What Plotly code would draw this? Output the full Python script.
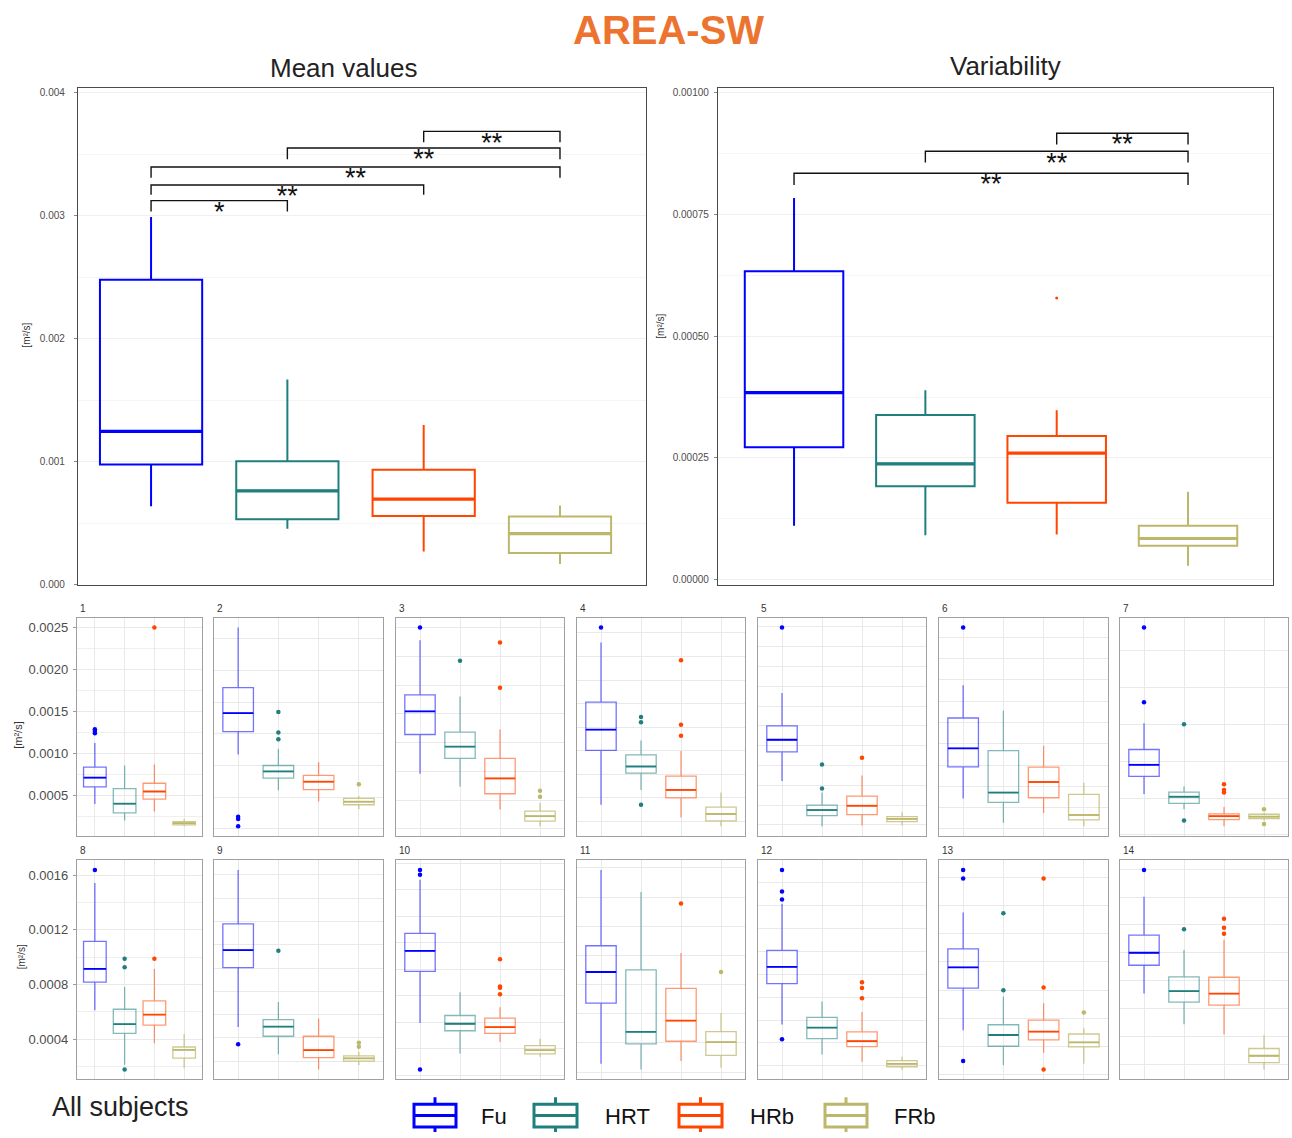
import plotly.graph_objects as go

W, H = 1292, 1138

groups = ["Fu", "HRT", "HRb", "FRb"]

# ---- All subjects: mean values (box statistics per group) ----
mean_lower = [0.000638, 0.000456, 0.000271, 0.000169]
mean_q1 = [0.000979, 0.000534, 0.000560, 0.000260]
mean_median = [0.001247, 0.000764, 0.000697, 0.000416]
mean_q3 = [0.002480, 0.001005, 0.000936, 0.000555]
mean_upper = [0.002990, 0.001670, 0.001300, 0.000646]
mean_outliers = [[], [], [], []]

# ---- All subjects: variability ----
var_lower = [0.000111, 0.0000917, 0.0000931, 0.0000292]
var_q1 = [0.000272, 0.000192, 0.000158, 0.0000700]
var_median = [0.000384, 0.000238, 0.000260, 0.0000849]
var_q3 = [0.000633, 0.000338, 0.000295, 0.000111]
var_upper = [0.000783, 0.000389, 0.000348, 0.000181]
var_outliers = [[], [], [0.000578], []]

# ---- significance brackets ----
mean_pairs = [(0, 1), (0, 2), (0, 3), (1, 3), (2, 3)]
mean_signif = ["*", "**", "**", "**", "**"]
mean_bracket = [0.003123, 0.003250, 0.003396, 0.003550, 0.003686]
mean_tip = [0.003034, 0.003170, 0.003308, 0.003460, 0.003598]

var_pairs = [(0, 3), (1, 3), (2, 3)]
var_signif = ["**", "**", "**"]
var_bracket = [0.000834, 0.000879, 0.000916]
var_tip = [0.000810, 0.000856, 0.000893]

# ---- per-subject distributions, columns: Fu, HRT, HRb, FRb ----
subjects = list(range(1, 15))
subj_lower = [
    [0.000402, 0.000206, 0.000312, 0.000139],
    [0.000836, 0.000555, 0.000466, 0.000406],
    [0.000728, 0.000619, 0.000417, 0.000273],
    [0.000343, 0.000468, 0.000234, 0.000161],
    [0.000643, 0.000187, 0.000193, 0.000193],
    [0.000485, 0.000256, 0.000349, 0.000225],
    [0.000527, 0.000424, 0.000309, 0.000348],
    [0.000613, 0.000214, 0.000371, 0.000189],
    [0.000494, 0.000260, 0.000129, 0.000166],
    [0.000593, 0.000363, 0.000450, 0.000338],
    [0.000257, 0.000218, 0.000275, 0.000230],
    [0.000560, 0.000299, 0.000235, 0.000168],
    [0.000513, 0.000266, 0.000353, 0.000275],
    [0.000707, 0.000486, 0.000412, 0.000162],
]
subj_q1 = [
    [0.000606, 0.000296, 0.000461, 0.000155],
    [0.001018, 0.000651, 0.000560, 0.000440],
    [0.001070, 0.000863, 0.000555, 0.000316],
    [0.000804, 0.000611, 0.000401, 0.000206],
    [0.000937, 0.000293, 0.000303, 0.000233],
    [0.000783, 0.000448, 0.000492, 0.000284],
    [0.000648, 0.000464, 0.000354, 0.000361],
    [0.000819, 0.000444, 0.000504, 0.000262],
    [0.001003, 0.000414, 0.000231, 0.000200],
    [0.000983, 0.000535, 0.000515, 0.000360],
    [0.000673, 0.000393, 0.000411, 0.000314],
    [0.000919, 0.000438, 0.000368, 0.000191],
    [0.000814, 0.000400, 0.000445, 0.000395],
    [0.000910, 0.000645, 0.000624, 0.000210],
]
subj_median = [
    [0.000716, 0.000406, 0.000551, 0.000174],
    [0.001164, 0.000703, 0.000622, 0.000464],
    [0.001272, 0.000964, 0.000688, 0.000360],
    [0.000980, 0.000667, 0.000468, 0.000264],
    [0.001060, 0.000350, 0.000393, 0.000260],
    [0.000957, 0.000541, 0.000640, 0.000330],
    [0.000726, 0.000509, 0.000377, 0.000374],
    [0.000915, 0.000511, 0.000581, 0.000323],
    [0.001154, 0.000497, 0.000294, 0.000223],
    [0.001138, 0.000588, 0.000563, 0.000388],
    [0.000886, 0.000475, 0.000552, 0.000405],
    [0.001064, 0.000533, 0.000415, 0.000217],
    [0.000962, 0.000480, 0.000504, 0.000428],
    [0.001000, 0.000724, 0.000707, 0.000260],
]
subj_q3 = [
    [0.000841, 0.000586, 0.000649, 0.000194],
    [0.001365, 0.000750, 0.000672, 0.000490],
    [0.001415, 0.001090, 0.000863, 0.000403],
    [0.001213, 0.000765, 0.000586, 0.000323],
    [0.001200, 0.000400, 0.000490, 0.000283],
    [0.001242, 0.000935, 0.000780, 0.000523],
    [0.000830, 0.000540, 0.000392, 0.000390],
    [0.001116, 0.000620, 0.000681, 0.000344],
    [0.001380, 0.000557, 0.000414, 0.000246],
    [0.001270, 0.000650, 0.000630, 0.000423],
    [0.001066, 0.000900, 0.000773, 0.000477],
    [0.001209, 0.000623, 0.000496, 0.000244],
    [0.001094, 0.000553, 0.000586, 0.000487],
    [0.001126, 0.000826, 0.000824, 0.000312],
]
subj_upper = [
    [0.001127, 0.000861, 0.000873, 0.000225],
    [0.001839, 0.000883, 0.000776, 0.000510],
    [0.001890, 0.001401, 0.001113, 0.000475],
    [0.001719, 0.000888, 0.000799, 0.000446],
    [0.001533, 0.000527, 0.000700, 0.000327],
    [0.001549, 0.001310, 0.000981, 0.000634],
    [0.001009, 0.000578, 0.000439, 0.000399],
    [0.001544, 0.000782, 0.000915, 0.000439],
    [0.001843, 0.000709, 0.000566, 0.000280],
    [0.001675, 0.000825, 0.000713, 0.000475],
    [0.001586, 0.001434, 0.001016, 0.000605],
    [0.001618, 0.000762, 0.000670, 0.000278],
    [0.001353, 0.000755, 0.000706, 0.000529],
    [0.001402, 0.001019, 0.001093, 0.000407],
]
subj_outliers = [
    [[0.001292, 0.001269, 0.001245], [], [0.002500], []],
    [[0.000346, 0.000328, 0.000271], [0.001172, 0.001010, 0.000958], [], [0.000602]],
    [[0.002000], [0.001712], [0.001870, 0.001476], [0.000581, 0.000529]],
    [[0.001845], [0.001087, 0.001042, 0.000343], [0.001568, 0.001022, 0.000927], []],
    [[0.002193], [0.000810, 0.000567], [0.000877], []],
    [[0.002092], [], [], []],
    [[0.001659, 0.001152], [0.001002, 0.000348], [0.000594, 0.000554, 0.000538], [0.000424, 0.000323]],
    [[0.001639], [0.000990, 0.000927, 0.000180], [0.000990], []],
    [[0.000346], [0.001149], [], [0.000357, 0.000323]],
    [[0.001750, 0.001713, 0.000243], [], [0.001075, 0.000870, 0.000860, 0.000810], []],
    [[], [], [0.001355], [0.000886]],
    [[0.001913, 0.001725, 0.001655, 0.000432], [], [0.000931, 0.000881, 0.000791], []],
    [[0.001656, 0.001595, 0.000294], [0.001348, 0.000798], [0.001595, 0.000819, 0.000235], [0.000640]],
    [[0.001595], [0.001169], [0.001245, 0.001179, 0.001136], []],
]
# gridline spacing of each subject panel
subj_grid = [0.00025, 0.00025, 0.00025, 0.0002, 0.0002, 0.0002, 0.00025,
             0.0002, 0.0002, 0.0002, 0.0002, 0.0002, 0.0002, 0.0002]
# labelled tick step for the first panel of each row
row_tick = {1: 0.0005, 8: 0.0004}

# ---- styling ----
solid = ["#0000FF", "#1F7F7F", "#FF4500", "#BDB76B"]
soft = ["rgba(0,0,255,0.55)", "rgba(31,127,127,0.55)",
        "rgba(255,69,0,0.55)", "rgba(189,183,107,0.75)"]
FONT = "Liberation Sans, Arial, sans-serif"
TXT = "#222222"


def fx(p):
    return p / W


def fy(p):
    return 1 - p / H


def refs(k):
    s = "" if k == 1 else str(k)
    return "xaxis" + s, "yaxis" + s, "x" + s, "y" + s


fig = go.Figure()
layout = dict(
    width=W, height=H, margin=dict(l=0, r=0, t=0, b=0),
    paper_bgcolor="white", plot_bgcolor="white", showlegend=False,
    font=dict(family=FONT, color=TXT), boxmode="overlay",
)
annotations = []
shapes = []


def add_boxes(k, lower, q1, med, q3, upper, outliers, box_col, med_col,
              lw, mlw, msize, width=0.75):
    _, _, xr, yr = refs(k)
    for i in range(4):
        fig.add_trace(go.Box(
            x=[i], lowerfence=[lower[i]], q1=[q1[i]], median=[med[i]],
            q3=[q3[i]], upperfence=[upper[i]], width=width, whiskerwidth=0,
            fillcolor="rgba(255,255,255,0)", boxpoints=False,
            line=dict(color=box_col[i], width=lw), name=groups[i],
            hoverinfo="skip", xaxis=xr, yaxis=yr))
        fig.add_trace(go.Scatter(
            x=[i - width / 2, i + width / 2], y=[med[i], med[i]], mode="lines",
            line=dict(color=med_col[i], width=mlw), hoverinfo="skip",
            xaxis=xr, yaxis=yr))
        if outliers[i]:
            fig.add_trace(go.Scatter(
                x=[i] * len(outliers[i]), y=outliers[i], mode="markers",
                marker=dict(color=solid[i], size=msize), hoverinfo="skip",
                xaxis=xr, yaxis=yr))


def add_brackets(k, pairs, labels, heights, tips):
    _, _, xr, yr = refs(k)
    for (a, b), h, t in zip(pairs, heights, tips):
        fig.add_trace(go.Scatter(
            x=[a, a, b, b], y=[t, h, h, t], mode="lines",
            line=dict(color="#111111", width=1.4), hoverinfo="skip",
            xaxis=xr, yaxis=yr))
    # significance marks sit just under each bracket
    fig.add_trace(go.Scatter(
        x=[(a + b) / 2 for a, b in pairs], y=heights, text=labels,
        mode="text", textposition="bottom center",
        textfont=dict(size=27, color="#111111", family=FONT),
        hoverinfo="skip", xaxis=xr, yaxis=yr))


# ---- top panels ----
top_frames = {1: ((78, 646), (87, 587), (-0.536, 3.631)),
              2: ((718, 1273), (87, 587), (-0.579, 3.647))}
top_y = {1: dict(range=[0, 0.004035], dtick=0.001, tickformat=".3f",
                 minor=0.0005, standoff=7),
         2: dict(range=[-0.0000102, 0.001008], dtick=0.00025,
                 tickformat=".5f", minor=0.000125, standoff=3)}

for k in (1, 2):
    xa, ya, xr, yr = refs(k)
    (x0, x1), (y0, y1), xrng = top_frames[k]
    cfg = top_y[k]
    layout[xa] = dict(domain=[fx(x0), fx(x1)], range=list(xrng), anchor=yr,
                      showticklabels=False, showgrid=False, zeroline=False,
                      showline=True, mirror=True, linecolor="#4A4A4A",
                      linewidth=1.3, ticks="", fixedrange=True)
    layout[ya] = dict(domain=[fy(y1), fy(y0)], range=cfg["range"], anchor=xr,
                      dtick=cfg["dtick"], tick0=0, tickformat=cfg["tickformat"],
                      showgrid=True, gridcolor="#F0F0F0", gridwidth=1,
                      minor=dict(dtick=cfg["minor"], showgrid=True,
                                 gridcolor="#F5F5F5", gridwidth=1),
                      zeroline=False, showline=True, mirror=True,
                      linecolor="#4A4A4A", linewidth=1.3, ticks="outside",
                      ticklen=3, tickcolor="#888888",
                      ticklabelstandoff=cfg["standoff"],
                      tickfont=dict(size=10, color="#4D4D4D", family=FONT),
                      fixedrange=True)

add_boxes(1, mean_lower, mean_q1, mean_median, mean_q3, mean_upper,
          mean_outliers, solid, solid, 2.0, 3.2, 4)
add_brackets(1, mean_pairs, mean_signif, mean_bracket, mean_tip)
add_boxes(2, var_lower, var_q1, var_median, var_q3, var_upper,
          var_outliers, solid, solid, 2.0, 3.2, 3)
add_brackets(2, var_pairs, var_signif, var_bracket, var_tip)

# ---- subject panels ----
col_x = [(77, 202), (214, 383), (396, 564), (577, 745), (758, 926),
         (939, 1108), (1120, 1288)]
row_y = [(620, 840), (864, 1085)]

for s_idx, subj in enumerate(subjects):
    k = s_idx + 3
    xa, ya, xr, yr = refs(k)
    row, col = divmod(s_idx, 7)
    (x0, x1), (y0, y1) = col_x[col], row_y[row]
    vals = (subj_lower[s_idx] + subj_upper[s_idx]
            + [v for grp in subj_outliers[s_idx] for v in grp])
    lo, hi = min(vals), max(vals)
    pad = 0.05 * (hi - lo)
    labelled = subj in row_tick
    ycfg = dict(domain=[fy(y1), fy(y0)], range=[lo - pad, hi + pad],
                anchor=xr, tick0=0, showgrid=True, gridcolor="#E9E9E9",
                gridwidth=1, zeroline=False, showline=True, mirror=True,
                linecolor="#A0A0A0", linewidth=1.2, fixedrange=True)
    if labelled:
        ycfg.update(dtick=row_tick[subj], tickformat=".4f",
                    showticklabels=True, ticks="outside", ticklen=3,
                    tickcolor="#999999", ticklabelstandoff=2,
                    tickfont=dict(size=13, color="#4D4D4D", family=FONT),
                    minor=dict(dtick=subj_grid[s_idx], showgrid=True,
                               gridcolor="#EFEFEF", gridwidth=1))
    else:
        ycfg.update(dtick=subj_grid[s_idx], showticklabels=False, ticks="")
    layout[ya] = ycfg
    layout[xa] = dict(domain=[fx(x0), fx(x1)], range=[-0.6, 3.6], anchor=yr,
                      dtick=1, tick0=0, showgrid=True, gridcolor="#E9E9E9",
                      gridwidth=1, showticklabels=False, ticks="",
                      zeroline=False, showline=True, mirror=True,
                      linecolor="#A0A0A0", linewidth=1.2, fixedrange=True)
    add_boxes(k, subj_lower[s_idx], subj_q1[s_idx], subj_median[s_idx],
              subj_q3[s_idx], subj_upper[s_idx], subj_outliers[s_idx],
              soft, solid, 1.3, 1.8, 4.5, width=0.76)
    annotations.append(dict(
        x=fx(x0 + 1), y=fy(y0 - 9), xref="paper", yref="paper",
        text=str(subj), showarrow=False, xanchor="left", yanchor="middle",
        font=dict(size=10, color="#333333", family=FONT)))


def paper_text(x, y, text, size, color=TXT, angle=0, anchor="center",
               bold=False):
    annotations.append(dict(
        x=fx(x), y=fy(y), xref="paper", yref="paper",
        text=f"<b>{text}</b>" if bold else text, showarrow=False,
        xanchor=anchor, yanchor="middle", textangle=angle,
        font=dict(size=size, color=color, family=FONT)))


# titles
paper_text(668, 28, "AREA-SW", 40, color="#EC7430", bold=True)
paper_text(343, 66, "Mean values", 26)
paper_text(1005, 64, "Variability", 26)
paper_text(50, 1113, "All subjects", 27, anchor="left")

# y-axis titles
unit = "[m²/s]"
paper_text(27, 335, unit, 10, color="#333333", angle=-90)
paper_text(661, 327, unit, 10, color="#333333", angle=-90)
paper_text(18, 738, unit, 11, color="#333333", angle=-90)
paper_text(21, 962, unit, 10, color="#333333", angle=-90)

# legend
legend_icon_x = [(414, 456), (534, 577), (679, 722), (825, 867)]
legend_text_x = [494, 627, 772, 915]
for i, g in enumerate(groups):
    a, b = legend_icon_x[i]
    c = (a + b) / 2
    line = dict(color=solid[i], width=3)
    shapes.append(dict(type="rect", xref="paper", yref="paper",
                       x0=fx(a), x1=fx(b), y0=fy(1133), y1=fy(1110),
                       line=line, fillcolor="white"))
    shapes.append(dict(type="line", xref="paper", yref="paper",
                       x0=fx(a), x1=fx(b), y0=fy(1121.5), y1=fy(1121.5),
                       line=line))
    shapes.append(dict(type="line", xref="paper", yref="paper",
                       x0=fx(c), x1=fx(c), y0=fy(1110), y1=fy(1103),
                       line=line))
    shapes.append(dict(type="line", xref="paper", yref="paper",
                       x0=fx(c), x1=fx(c), y0=fy(1133), y1=fy(1138),
                       line=line))
    paper_text(legend_text_x[i], 1122, g, 22, color="#111111")

layout["annotations"] = annotations
layout["shapes"] = shapes
fig.update_layout(**layout)
fig.write_html("out.html")
